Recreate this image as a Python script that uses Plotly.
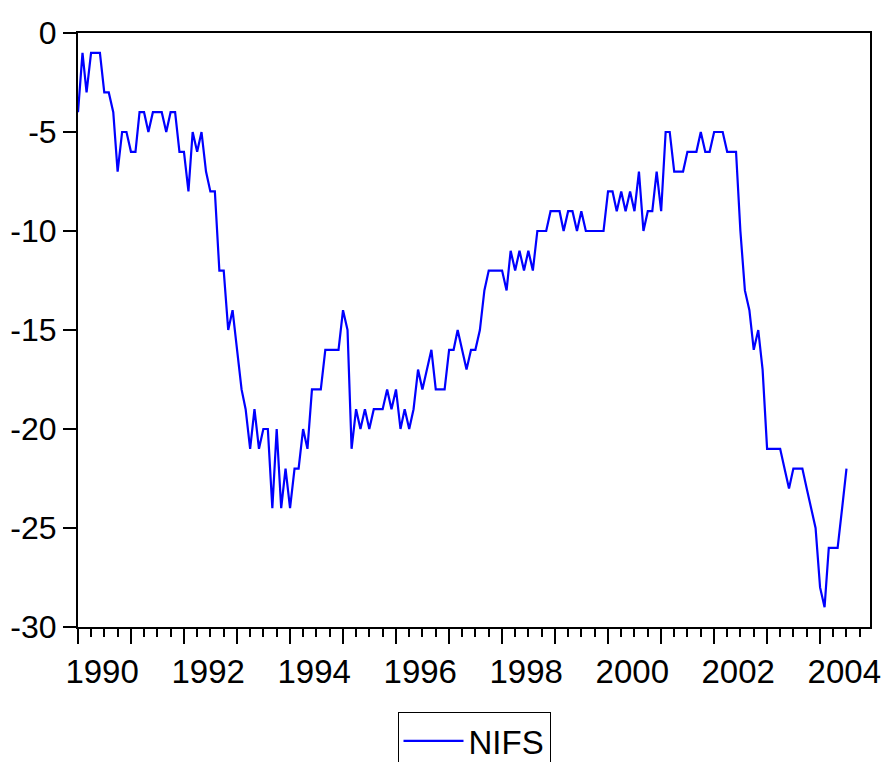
import pandas as pd
import plotly.graph_objects as go

# ---- data (monthly, 1990M1 .. 2004M7) ----
start_month = "1990-01-01"
nifs = [
    -4, -1, -3, -1, -1, -1, -3, -3, -4, -7, -5, -5,          # 1990
    -6, -6, -4, -4, -5, -4, -4, -4, -5, -4, -4, -6,          # 1991
    -6, -8, -5, -6, -5, -7, -8, -8, -12, -12, -15, -14,      # 1992
    -16, -18, -19, -21, -19, -21, -20, -20, -24, -20, -24, -22,  # 1993
    -24, -22, -22, -20, -21, -18, -18, -18, -16, -16, -16, -16,  # 1994
    -14, -15, -21, -19, -20, -19, -20, -19, -19, -19, -18, -19,  # 1995
    -18, -20, -19, -20, -19, -17, -18, -17, -16, -18, -18, -18,  # 1996
    -16, -16, -15, -16, -17, -16, -16, -15, -13, -12, -12, -12,  # 1997
    -12, -13, -11, -12, -11, -12, -11, -12, -10, -10, -10, -9,   # 1998
    -9, -9, -10, -9, -9, -10, -9, -10, -10, -10, -10, -10,       # 1999
    -8, -8, -9, -8, -9, -8, -9, -7, -10, -9, -9, -7,             # 2000
    -9, -5, -5, -7, -7, -7, -6, -6, -6, -5, -6, -6,              # 2001
    -5, -5, -5, -6, -6, -6, -10, -13, -14, -16, -15, -17,        # 2002
    -21, -21, -21, -21, -22, -23, -22, -22, -22, -23, -24, -25,  # 2003
    -28, -29, -26, -26, -26, -24, -22,                           # 2004
]
label_years = [1990, 1992, 1994, 1996, 1998, 2000, 2002, 2004]
y_ticks = [0, -5, -10, -15, -20, -25, -30]
y_tick_text = ["0", "-5", "-10", "-15", "-20", "-25", "-30"]
series_name = "NIFS"

dates = pd.date_range(start_month, periods=len(nifs), freq="MS")
label_pos = [f"{y}-06-16" for y in label_years]
label_text = [str(y) for y in label_years]
x_range = ["1990-01-01", "2004-12-10"]

FONT = "Arial, 'Liberation Sans', sans-serif"

fig = go.Figure()
fig.add_trace(go.Scatter(
    x=dates, y=nifs, mode="lines", name=series_name,
    line=dict(color="#0000FF", width=2.2),
))
# invisible companion trace that carries the year-label axis
fig.add_trace(go.Scatter(
    x=dates, y=nifs, xaxis="x2", mode="lines", opacity=0,
    showlegend=False, hoverinfo="skip",
))

fig.update_layout(
    width=882, height=762,
    margin=dict(l=78, r=12, t=33, b=135, autoexpand=False),
    paper_bgcolor="white", plot_bgcolor="white",
    font=dict(family=FONT, size=32, color="black"),
    showlegend=True,
    legend=dict(
        orientation="h", x=0.5, xanchor="center", y=-0.143, yanchor="top",
        bordercolor="black", borderwidth=1, font=dict(size=33),
        bgcolor="white", itemwidth=60,
    ),
    xaxis=dict(
        type="date", range=x_range,
        tickmode="linear", tick0="1990-01-01", dtick="M12",
        ticks="outside", ticklen=15, tickwidth=1.5, tickcolor="black",
        showticklabels=False,
        showline=True, linecolor="black", linewidth=2, mirror=True,
        showgrid=False, zeroline=False,
        minor=dict(ticks="outside", ticklen=8, tickwidth=1.5,
                   tickcolor="black", dtick="M3", tick0="1990-01-01",
                   showgrid=False),
    ),
    xaxis2=dict(
        type="date", overlaying="x", anchor="y", side="bottom",
        range=x_range,
        tickmode="array", tickvals=label_pos, ticktext=label_text,
        ticks="outside", ticklen=15, tickcolor="rgba(0,0,0,0)",
        showline=False, showgrid=False, zeroline=False,
        tickfont=dict(size=33, color="black"),
    ),
    yaxis=dict(
        range=[-30, 0],
        tickmode="array", tickvals=y_ticks, ticktext=y_tick_text,
        ticks="outside", ticklen=13, tickwidth=1.5, tickcolor="black",
        showline=True, linecolor="black", linewidth=2, mirror=True,
        showgrid=False, zeroline=False,
        tickfont=dict(size=32, color="black"),
    ),
)

fig.write_html("out.html")
